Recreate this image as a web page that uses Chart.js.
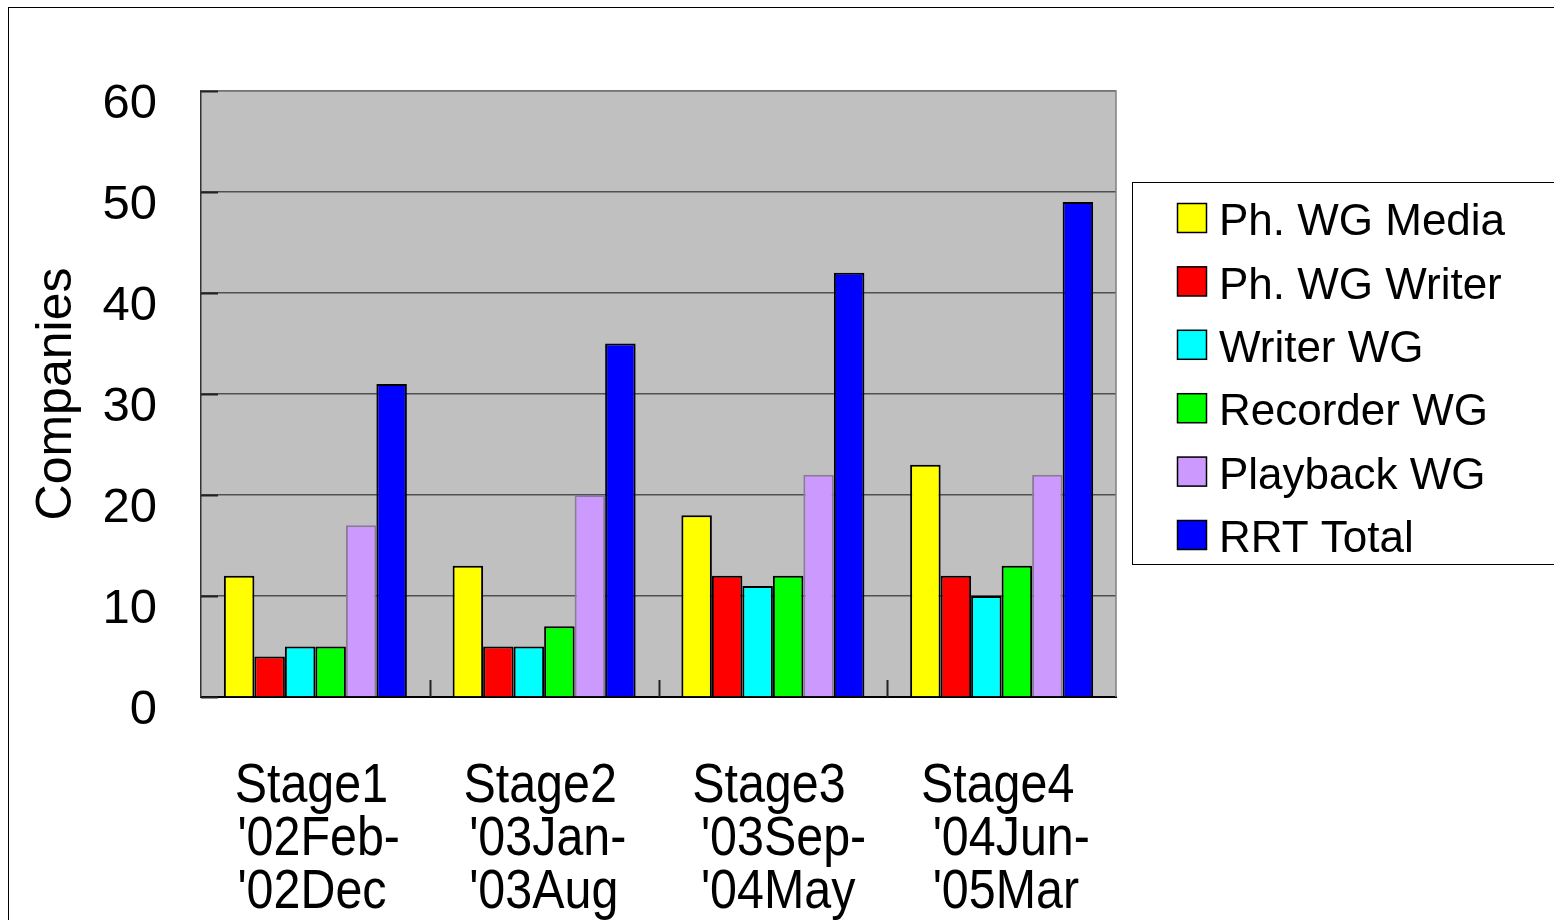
<!DOCTYPE html>
<html>
<head>
<meta charset="utf-8">
<script src="https://cdn.jsdelivr.net/npm/chart.js@4/dist/chart.umd.min.js"></script>
<style>
  html, body { margin: 0; padding: 0; background: #fff; }
  #wrap { width: 1554px; height: 920px; }
</style>
</head>
<body>
<div id="wrap"><canvas id="c" width="1554" height="920"></canvas></div>
<script>
// --- data ---
const stages = [
  ['Stage1', "'02Feb-", "'02Dec"],
  ['Stage2', "'03Jan-", "'03Aug"],
  ['Stage3', "'03Sep-", "'04May"],
  ['Stage4', "'04Jun-", "'05Mar"],
];
const seriesNames = ['Ph. WG Media', 'Ph. WG Writer', 'Writer WG', 'Recorder WG', 'Playback WG', 'RRT Total'];
const phMedia    = [12, 13, 18, 23];
const phWriter   = [4, 5, 12, 12];
const writerWG   = [5, 5, 11, 10];
const recorderWG = [5, 7, 12, 13];
const playbackWG = [17, 20, 22, 22];
const rrtTotal   = [31, 35, 42, 49];
const yTicks     = [0, 10, 20, 30, 40, 50, 60];

const colors  = ['#ffff00', '#ff0000', '#00ffff', '#00ff00', '#cc99ff', '#0000ff'];
const borders = ['#000', '#000', '#000', '#000', '#8a7a99', '#000'];
const values  = [phMedia, phWriter, writerWG, recorderWG, playbackWG, rrtTotal];

const SANS = "'Liberation Sans', Arial, sans-serif";

// background, outer frame, plot border, inner ticks, category labels, legend
const decor = {
  id: 'decor',
  beforeDraw(chart) {
    const {ctx, chartArea: a} = chart;
    ctx.save();
    ctx.fillStyle = '#c0c0c0';
    ctx.fillRect(a.left, a.top, a.right - a.left, a.bottom - a.top);
    ctx.strokeStyle = '#000';
    ctx.lineWidth = 1;
    ctx.strokeRect(8.5, 7.5, 3000, 3000);
    ctx.restore();
  },
  afterDraw(chart) {
    const {ctx, chartArea: a, scales} = chart;
    ctx.save();
    // right / top plot edges
    ctx.strokeStyle = '#808080';
    ctx.lineWidth = 1.5;
    ctx.beginPath();
    ctx.moveTo(a.left, a.top); ctx.lineTo(a.right, a.top); ctx.lineTo(a.right, a.bottom);
    ctx.stroke();
    // inward y ticks
    ctx.strokeStyle = '#222';
    ctx.lineWidth = 2;
    yTicks.forEach(v => {
      const y = Math.round(scales.y.getPixelForValue(v)) + 0.5;
      ctx.beginPath(); ctx.moveTo(a.left, y); ctx.lineTo(a.left + 17, y); ctx.stroke();
    });
    // category separators
    for (let i = 0; i < stages.length - 1; i++) {
      const x = Math.round((scales.x.getPixelForValue(i) + scales.x.getPixelForValue(i + 1)) / 2) + 0.5;
      ctx.beginPath(); ctx.moveTo(x, a.bottom); ctx.lineTo(x, a.bottom - 17); ctx.stroke();
    }
    // category labels, horizontally condensed like the original;
    // first line centred, the date lines share a left edge
    ctx.fillStyle = '#000';
    ctx.font = '55px ' + SANS;
    ctx.textBaseline = 'alphabetic';
    stages.forEach((lines, i) => {
      const cx = scales.x.getPixelForValue(i);
      lines.forEach((t, j) => {
        ctx.save();
        if (j === 0) {
          ctx.textAlign = 'center';
          ctx.translate(cx - 4, a.bottom + 105);
        } else {
          ctx.textAlign = 'left';
          ctx.translate(cx - 78 + i * 3, a.bottom + 105 + j * 53);
        }
        ctx.scale(0.88, 1);
        ctx.fillText(t, 0, 0);
        ctx.restore();
      });
    });
    // legend
    ctx.strokeStyle = '#000';
    ctx.lineWidth = 1;
    ctx.strokeRect(1132.5, 182.5, 500, 382);
    ctx.font = '44px ' + SANS;
    ctx.textBaseline = 'middle';
    ctx.textAlign = 'left';
    chart.data.datasets.forEach((ds, i) => {
      const top = 203 + i * 63.4;
      ctx.fillStyle = ds.backgroundColor;
      ctx.fillRect(1177, top, 30, 30);
      ctx.strokeStyle = '#000';
      ctx.lineWidth = 1.5;
      ctx.strokeRect(1177.5, top + 0.5, 29, 29);
      ctx.fillStyle = '#000';
      ctx.fillText(ds.label, 1219, top + 20);
    });
    ctx.restore();
  }
};

new Chart(document.getElementById('c'), {
  type: 'bar',
  data: {
    labels: stages,
    datasets: seriesNames.map((name, i) => ({
      label: name,
      data: values[i],
      backgroundColor: colors[i],
      borderColor: borders[i],
      borderWidth: 2,
      borderSkipped: 'bottom',
      categoryPercentage: 0.8,
      barPercentage: 1.0,
    })),
  },
  options: {
    responsive: false,
    animation: false,
    layout: { padding: { left: 8, top: 91, right: 438, bottom: 0 } },
    plugins: { legend: { display: false }, tooltip: { enabled: false } },
    scales: {
      x: {
        grid: { display: false, drawTicks: false },
        border: { color: '#000', width: 2 },
        ticks: { display: false },
        afterFit(s) { s.height = 920 - 697; },
      },
      y: {
        min: 0, max: 60,
        ticks: {
          stepSize: 10,
          color: '#000',
          font: { family: SANS, size: 49 },
          padding: 44,
          labelOffset: 13,
        },
        grid: { color: '#505050', lineWidth: 1.5, drawTicks: false },
        border: { color: '#333', width: 1.5 },
        title: {
          display: true,
          text: 'Companies',
          color: '#000',
          font: { family: SANS, size: 50 },
          padding: { top: 19, bottom: 0 },
        },
        afterFit(s) { s.width = 201 - 8; },
      },
    },
  },
  plugins: [decor],
});
</script>
</body>
</html>
